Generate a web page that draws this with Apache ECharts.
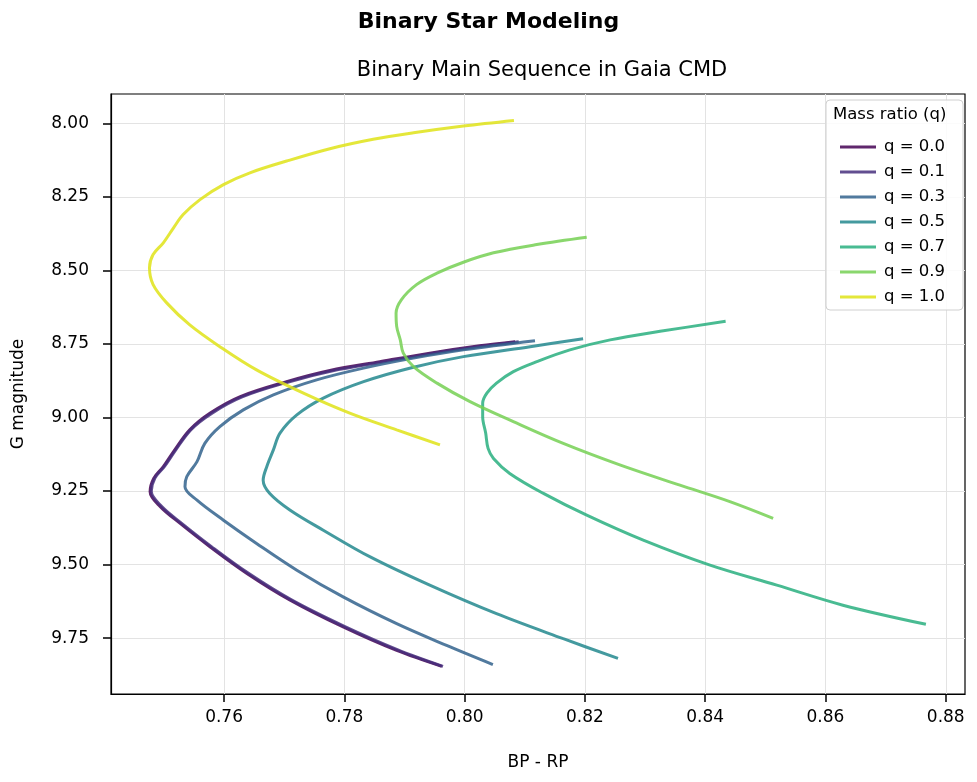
<!DOCTYPE html>
<html>
<head>
<meta charset="utf-8">
<title>Binary Star Modeling</title>
<script src="https://cdn.jsdelivr.net/npm/echarts@6/dist/echarts.min.js"></script>
<style>
  html, body { margin: 0; padding: 0; background: #fff; }
  #chart { width: 977px; height: 782px; }
</style>
</head>
<body>
<div id="chart"></div>
<script>
// ticks
var xTicks = [0.76, 0.78, 0.80, 0.82, 0.84, 0.86, 0.88];
var yTicks = [8.00, 8.25, 8.50, 8.75, 9.00, 9.25, 9.50, 9.75];

// q = 0.0
var bp_q00 = [0.7962, 0.7887, 0.7798, 0.7710, 0.7638, 0.7577, 0.7527, 0.7494, 0.7477, 0.7483, 0.7499, 0.7516, 0.7543, 0.7577, 0.7627, 0.7704, 0.7776, 0.7859, 0.7942, 0.8025, 0.8084];
var g_q00  = [9.846, 9.792, 9.712, 9.621, 9.530, 9.440, 9.360, 9.303, 9.252, 9.207, 9.167, 9.116, 9.042, 8.985, 8.929, 8.878, 8.840, 8.810, 8.781, 8.756, 8.742];
// q = 0.1
var bp_q01 = [0.7964, 0.7889, 0.7800, 0.7712, 0.7640, 0.7579, 0.7529, 0.7496, 0.7479, 0.7485, 0.7501, 0.7518, 0.7545, 0.7580, 0.7630, 0.7707, 0.7779, 0.7862, 0.7945, 0.8028, 0.8090];
var g_q01  = [9.846, 9.790, 9.710, 9.620, 9.529, 9.439, 9.359, 9.302, 9.251, 9.206, 9.166, 9.115, 9.041, 8.985, 8.930, 8.879, 8.842, 8.812, 8.783, 8.758, 8.742];
// q = 0.3
var bp_q03 = [0.8047, 0.7970, 0.7887, 0.7798, 0.7721, 0.7654, 0.7599, 0.7555, 0.7535, 0.7538, 0.7555, 0.7568, 0.7593, 0.7632, 0.7682, 0.7754, 0.7832, 0.7915, 0.7998, 0.8117];
var g_q03  = [9.840, 9.775, 9.701, 9.610, 9.519, 9.428, 9.349, 9.281, 9.235, 9.201, 9.150, 9.088, 9.031, 8.974, 8.923, 8.872, 8.832, 8.798, 8.770, 8.739];
// q = 0.5
var bp_q05 = [0.8255, 0.8164, 0.8053, 0.7942, 0.7843, 0.7765, 0.7710, 0.7676, 0.7665, 0.7671, 0.7682, 0.7693, 0.7721, 0.7765, 0.7832, 0.7915, 0.7998, 0.8109, 0.8197];
var g_q05  = [9.819, 9.752, 9.667, 9.570, 9.474, 9.383, 9.315, 9.258, 9.213, 9.167, 9.110, 9.053, 8.991, 8.934, 8.878, 8.829, 8.793, 8.759, 8.732];
// q = 0.7
var bp_q07 = [0.8767, 0.8629, 0.8519, 0.8408, 0.8297, 0.8203, 0.8131, 0.8075, 0.8048, 0.8039, 0.8035, 0.8030, 0.8030, 0.8037, 0.8053, 0.8081, 0.8120, 0.8175, 0.8242, 0.8325, 0.8434];
var g_q07  = [9.703, 9.638, 9.570, 9.502, 9.417, 9.332, 9.258, 9.190, 9.139, 9.105, 9.053, 8.997, 8.951, 8.917, 8.883, 8.844, 8.810, 8.770, 8.736, 8.707, 8.673];
// q = 0.9
var bp_q09 = [0.8513, 0.8441, 0.8358, 0.8258, 0.8164, 0.8081, 0.8009, 0.7954, 0.7915, 0.7898, 0.7893, 0.7887, 0.7886, 0.7895, 0.7920, 0.7954, 0.7998, 0.8048, 0.8120, 0.8203];
var g_q09  = [9.343, 9.286, 9.230, 9.161, 9.088, 9.014, 8.946, 8.883, 8.827, 8.781, 8.736, 8.690, 8.645, 8.599, 8.548, 8.509, 8.472, 8.440, 8.412, 8.387];
// q = 1.0
var bp_q10 = [0.7959, 0.7887, 0.7809, 0.7732, 0.7654, 0.7593, 0.7543, 0.7505, 0.7482, 0.7476, 0.7482, 0.7499, 0.7516, 0.7532, 0.7560, 0.7599, 0.7643, 0.7704, 0.7776, 0.7848, 0.7915, 0.7998, 0.8082];
var g_q10  = [9.093, 9.042, 8.985, 8.917, 8.838, 8.759, 8.685, 8.611, 8.548, 8.491, 8.446, 8.406, 8.355, 8.310, 8.259, 8.208, 8.168, 8.128, 8.086, 8.054, 8.032, 8.009, 7.990];

// viridis, 7 steps from 0 to 0.95
var curves = [
    { name: 'q = 0.0', bp: bp_q00, g: g_q00, color: '#440154' },
    { name: 'q = 0.1', bp: bp_q01, g: g_q01, color: '#472f7d' },
    { name: 'q = 0.3', bp: bp_q03, g: g_q03, color: '#33638d' },
    { name: 'q = 0.5', bp: bp_q05, g: g_q05, color: '#23888e' },
    { name: 'q = 0.7', bp: bp_q07, g: g_q07, color: '#29af7f' },
    { name: 'q = 0.9', bp: bp_q09, g: g_q09, color: '#75d054' },
    { name: 'q = 1.0', bp: bp_q10, g: g_q10, color: '#dfe318' }
];

var font = 'DejaVu Sans';

var series = curves.map(function (c) {
    return {
        name: c.name,
        type: 'line',
        showSymbol: false,
        symbol: 'none',
        smooth: 0.35,
        color: c.color,
        itemStyle: { opacity: 0.85 },
        lineStyle: { width: 3, opacity: 0.85 },
        data: c.bp.map(function (v, i) { return [v, c.g[i]]; })
    };
});

var chart = echarts.init(document.getElementById('chart'));
chart.setOption({
    backgroundColor: '#fff',
    animation: false,
    title: [{
        text: 'Binary Star Modeling',
        left: 'center',
        top: 6,
        textStyle: { fontFamily: font, fontSize: 22, fontWeight: 'bold', color: '#000' }
    }, {
        text: 'Binary Main Sequence in Gaia CMD',
        left: 537,
        textAlign: 'center',
        top: 55,
        textStyle: { fontFamily: font, fontSize: 21, fontWeight: 'normal', color: '#000' }
    }],
    grid: {
        left: 111, top: 94, width: 854, height: 600,
        show: true, borderColor: '#000', borderWidth: 1.2
    },
    legend: {
        orient: 'vertical',
        left: 835,
        top: 133,
        z: 10,
        icon: 'rect',
        itemWidth: 36,
        itemHeight: 3,
        itemGap: 7,
        inactiveColor: '#ccc',
        textStyle: { fontFamily: font, fontSize: 16.5, color: '#000', lineHeight: 18, padding: [0, 0, 0, 3] },
        data: curves.map(function (c) { return c.name; })
    },
    graphic: [{
        type: 'rect',
        shape: { x: 826, y: 100, width: 137, height: 210, r: 4 },
        style: { fill: 'rgba(255,255,255,0.85)', stroke: '#d0d0d0', lineWidth: 1 },
        z: 3
    }, {
        type: 'text',
        x: 833, y: 106,
        style: { text: 'Mass ratio (q)', font: '16.5px "DejaVu Sans"', fill: '#000' },
        z: 11
    }],
    xAxis: {
        type: 'value',
        min: 0.7412,
        max: 0.8832,
        name: 'BP - RP',
        nameLocation: 'middle',
        nameGap: 60,
        nameTextStyle: { fontFamily: font, fontSize: 17, color: '#000' },
        axisLine: { show: true, onZero: false, lineStyle: { color: '#000', width: 1.2 } },
        axisTick: { show: true, inside: false, length: 8, customValues: xTicks, lineStyle: { color: '#000', width: 1.5 } },
        axisLabel: {
            customValues: xTicks, margin: 15, fontFamily: font, fontSize: 17, color: '#000',
            formatter: function (v) { return v.toFixed(2); }
        },
        splitLine: { show: true, lineStyle: { color: '#e3e3e3', width: 1 } }
    },
    yAxis: {
        type: 'value',
        inverse: true,
        min: 7.9,
        max: 9.94,
        name: 'G magnitude',
        nameLocation: 'middle',
        nameRotate: 90,
        nameGap: 84,
        nameTextStyle: { fontFamily: font, fontSize: 17, color: '#000' },
        axisLine: { show: true, onZero: false, lineStyle: { color: '#000', width: 1.2 } },
        axisTick: { show: true, inside: false, length: 8, customValues: yTicks, lineStyle: { color: '#000', width: 1.5 } },
        axisLabel: {
            customValues: yTicks, margin: 22, fontFamily: font, fontSize: 17, color: '#000',
            formatter: function (v) { return v.toFixed(2); }
        },
        splitLine: { show: true, lineStyle: { color: '#e3e3e3', width: 1 } }
    },
    series: series
});
</script>
</body>
</html>
